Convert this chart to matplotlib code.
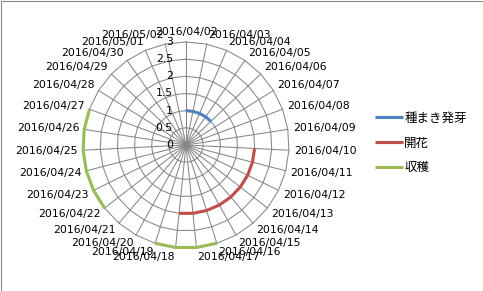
"""Radar chart: growth stages by date."""

import numpy as np
import matplotlib
matplotlib.use("Agg")
import matplotlib.pyplot as plt
from matplotlib.patches import Rectangle

DATES = [
    "2016/04/02", "2016/04/03", "2016/04/04", "2016/04/05", "2016/04/06",
    "2016/04/07", "2016/04/08", "2016/04/09", "2016/04/10", "2016/04/11",
    "2016/04/12", "2016/04/13", "2016/04/14", "2016/04/15", "2016/04/16",
    "2016/04/17", "2016/04/18", "2016/04/19", "2016/04/20", "2016/04/21",
    "2016/04/22", "2016/04/23", "2016/04/24", "2016/04/25", "2016/04/26",
    "2016/04/27", "2016/04/28", "2016/04/29", "2016/04/30", "2016/05/01",
    "2016/05/02",
]
N = None
# one value per date, None = blank cell
SOWING = [1, 1, 1, 1, 1, N, N, N, N, N,
          N, N, N, N, N, N, N, N, N, N,
          N, N, N, N, N, N, N, N, N, N, N]
FLOWER = [N, N, N, N, N, N, N, N, 2, 2,
          2, 2, 2, 2, 2, 2, 2, N, N, N,
          N, N, N, N, N, N, N, N, N, N, N]
HARVEST = [N, N, N, N, N, N, N, N, N, N,
           N, N, N, N, 3, 3, 3, 3, N, N,
           3, 3, 3, 3, 3, 3, N, N, N, N, N]
SERIES = ["種まき発芽", "開花", "収穫"]
COLORS = ["#4F81BD", "#C0504D", "#9BBB59"]
R_TICKS = [0, 0.5, 1, 1.5, 2, 2.5, 3]
R_LABELS = ["0", "0.5", "1", "1.5", "2", "2.5", "3"]

GRID = "#878787"
FS = 7.8


def to_arr(vals):
    return np.array([np.nan if v is None else v for v in vals], dtype=float)


fig = plt.figure(figsize=(4.83, 2.91), dpi=100)
ax = fig.add_axes([83 / 483, 43 / 291, 206 / 483, 206 / 291], projection="polar")
ax.set_theta_zero_location("N")
ax.set_theta_direction(-1)
ax.set_ylim(0, 3)
ax.grid(False)
ax.set_xticks([])
ax.set_yticks([])
ax.spines["polar"].set_visible(False)

n = len(DATES)
theta = np.arange(n) * 2 * np.pi / n
theta_closed = np.append(theta, theta[0])

# polygon grid rings and spokes
for r in R_TICKS[1:]:
    ax.plot(theta_closed, [r] * (n + 1), color=GRID, lw=0.75, clip_on=False, zorder=1)
for t in theta:
    ax.plot([t, t], [0, 3], color=GRID, lw=0.75, clip_on=False, zorder=1)

handles = []
for vals, name, c in zip([SOWING, FLOWER, HARVEST], SERIES, COLORS):
    (ln,) = ax.plot(theta, to_arr(vals), color=c, lw=2.25, clip_on=False,
                    solid_capstyle="butt", zorder=3, label=name)
    handles.append(ln)

# radial value labels to the left of the top spoke
for r, lab in zip(R_TICKS, R_LABELS):
    ax.annotate(lab, xy=(0, r), xytext=(-13, 0), textcoords="offset pixels",
                ha="right", va="center", fontsize=FS, annotation_clip=False)

# category labels
gap, h = 5, 9
for t, lab in zip(theta, DATES):
    s, c = np.sin(t), np.cos(t)
    if abs(s) < 0.05:
        ha = "center"
    elif s > 0:
        ha = "left"
    else:
        ha = "right"
    ax.annotate(lab, xy=(t, 3), xytext=(s * gap, c * (gap + h / 2)),
                textcoords="offset pixels", ha=ha, va="center",
                fontsize=FS, annotation_clip=False)

fig.legend(handles, SERIES, loc="center left", bbox_to_anchor=(375 / 483, 1 - 143 / 291),
           frameon=False, borderpad=0, borderaxespad=0, handlelength=2.2,
           handletextpad=0.15, labelspacing=0.95,
           prop={"family": ["Noto Sans CJK JP", "DejaVu Sans"], "size": 9})

fig.patches.append(Rectangle((0.5 / 483, 0.5 / 291), 1 - 1 / 483, 1 - 1 / 291,
                             transform=fig.transFigure, fill=False,
                             edgecolor=GRID, lw=0.75))

fig.savefig("out.png", dpi=100)
